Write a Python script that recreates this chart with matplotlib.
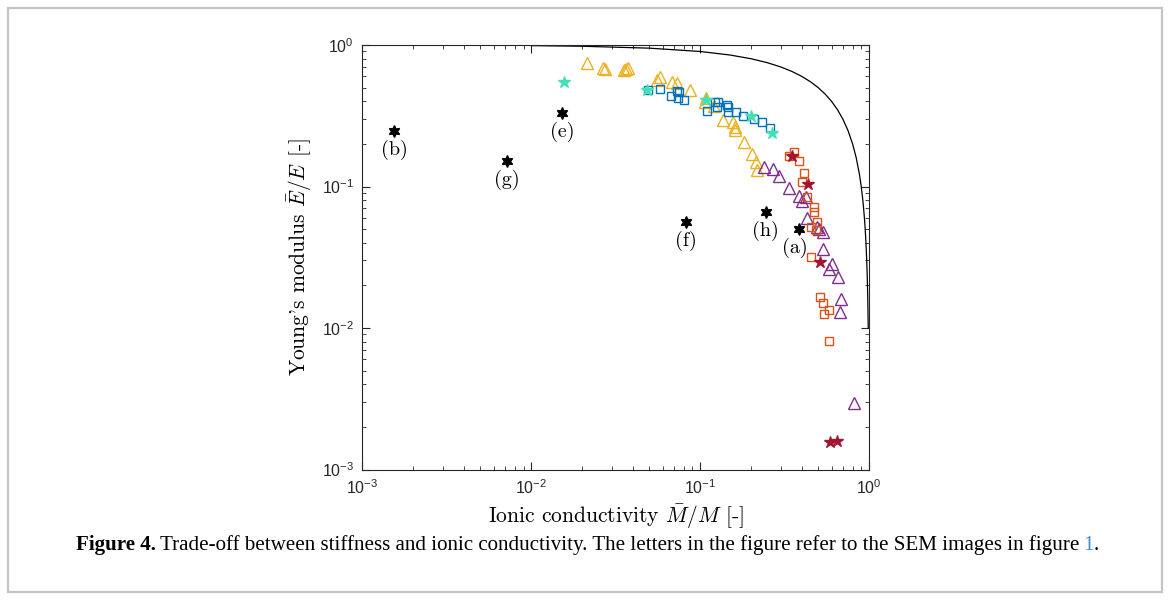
import matplotlib
matplotlib.use("Agg")
import matplotlib.pyplot as plt
from matplotlib.patches import Rectangle
from matplotlib.ticker import LogLocator, NullFormatter

plt.rcParams["font.family"] = ["Liberation Sans", "DejaVu Sans"]
plt.rcParams["mathtext.fontset"] = "custom"
plt.rcParams["mathtext.rm"] = "Liberation Sans"
plt.rcParams["mathtext.it"] = "Liberation Sans:italic"
plt.rcParams["mathtext.bf"] = "Liberation Sans:bold"

# bound curve
bound_x = [0.01, 0.02, 0.05, 0.1, 0.15, 0.2, 0.25, 0.3, 0.35, 0.4, 0.45, 0.5,
           0.55, 0.6, 0.65, 0.7, 0.75, 0.8, 0.84, 0.88, 0.9, 0.92, 0.94,
           0.95, 0.96, 0.97, 0.975, 0.98, 0.985, 0.99]
bound_y = [0.99, 0.98, 0.95, 0.9, 0.85, 0.8, 0.75, 0.7, 0.65, 0.6, 0.55, 0.5,
           0.45, 0.4, 0.35, 0.3, 0.25, 0.2, 0.16, 0.12, 0.1, 0.08, 0.06,
           0.05, 0.04, 0.03, 0.025, 0.02, 0.015, 0.01]

# yellow triangles
tri_y_x = [0.0215, 0.0266, 0.0273, 0.0354, 0.0374, 0.0364, 0.0578, 0.0557,
           0.0679, 0.0733, 0.0871, 0.108, 0.107, 0.121, 0.137, 0.157, 0.161,
           0.161, 0.182, 0.202, 0.214, 0.218]
tri_y_y = [0.748, 0.693, 0.682, 0.661, 0.693, 0.676, 0.597, 0.566,
           0.551, 0.542, 0.481, 0.420, 0.397, 0.371, 0.295, 0.287, 0.265,
           0.251, 0.205, 0.170, 0.150, 0.131]

# purple triangles
tri_p_x = [0.239, 0.269, 0.294, 0.337, 0.385, 0.400, 0.424, 0.431, 0.491,
           0.505, 0.532, 0.537, 0.603, 0.582, 0.659, 0.681, 0.675, 0.817]
tri_p_y = [0.137, 0.133, 0.119, 0.0971, 0.0861, 0.0794, 0.0847, 0.0596,
           0.0515, 0.0498, 0.0479, 0.0362, 0.0282, 0.0260, 0.0230, 0.0161,
           0.0129, 0.00294]

# blue squares
sq_b_x = [0.0493, 0.0578, 0.0673, 0.0726, 0.0753, 0.0736, 0.0803, 0.110,
          0.122, 0.128, 0.126, 0.144, 0.147, 0.146, 0.163, 0.180, 0.209,
          0.232, 0.259]
sq_b_y = [0.481, 0.489, 0.438, 0.475, 0.468, 0.420, 0.409, 0.342,
          0.397, 0.397, 0.363, 0.377, 0.366, 0.338, 0.338, 0.315, 0.299,
          0.287, 0.257]

# orange squares
sq_o_x = [0.336, 0.360, 0.387, 0.413, 0.403, 0.431, 0.471, 0.475, 0.494,
          0.452, 0.486, 0.456, 0.516, 0.531, 0.581, 0.542, 0.581]
sq_o_y = [0.164, 0.175, 0.151, 0.124, 0.108, 0.0847, 0.0713, 0.0664,
          0.0564, 0.0515, 0.0493, 0.0318, 0.0166, 0.0151, 0.0134, 0.0126,
          0.00803]

# turquoise stars
st_t_x = [0.0157, 0.0483, 0.108, 0.1995, 0.267]
st_t_y = [0.551, 0.481, 0.409, 0.316, 0.239]

# dark red stars
st_r_x = [0.352, 0.437, 0.513, 0.589, 0.650]
st_r_y = [0.164, 0.104, 0.0294, 0.00157, 0.00159]

# black hexagrams (SEM samples)
sem_x = [0.00154, 0.00714, 0.0153, 0.0822, 0.245, 0.387]
sem_y = [0.248, 0.151, 0.329, 0.0558, 0.0664, 0.0498]
sem_labels = ["(b)", "(g)", "(e)", "(f)", "(h)", "(a)"]

caption_bold = "Figure 4."
caption_text = ("Trade-off between stiffness and ionic conductivity. The letters "
                "in the figure refer to the SEM images in figure")
caption_ref = "1"

fig = plt.figure(figsize=(11.7, 6.0), dpi=100)
fig.patches.append(Rectangle((8 / 1170, 8 / 600), 1154 / 1170, 584 / 600,
                             transform=fig.transFigure, fill=False,
                             edgecolor="#c4c4c4", linewidth=1.6))

ax = fig.add_axes([0.3098, 0.2175, 0.4329, 0.7075])
ax.set_xscale("log")
ax.set_yscale("log")

ax.plot(bound_x, bound_y, color="black", lw=0.9)

mew = 1.0
ax.plot(tri_y_x, tri_y_y, "^", ms=8.5, mfc="none", mec="#EDB120", mew=mew)
ax.plot(tri_p_x, tri_p_y, "^", ms=8.5, mfc="none", mec="#7E2F8E", mew=mew)
ax.plot(sq_b_x, sq_b_y, "s", ms=6.3, mfc="none", mec="#0072BD", mew=mew)
ax.plot(sq_o_x, sq_o_y, "s", ms=6.3, mfc="none", mec="#D95319", mew=mew)
ax.plot(st_t_x, st_t_y, "*", ms=9, color="#45DFB5", mec="#45DFB5")
ax.plot(st_r_x, st_r_y, "*", ms=9, color="#A2142F", mec="#A2142F")
ax.plot(sem_x, sem_y, marker=(6, 1, 0), ls="none", ms=8.5, color="black")

for lab, x, y in zip(sem_labels, sem_x, sem_y):
    dx = -4 if lab == "(a)" else 0
    ax.annotate(lab, (x, y), xytext=(dx, -19), textcoords="offset pixels",
                ha="center", va="center", fontfamily="cmr10", fontsize=14.5)

ax.set_xlim(1e-3, 1)
ax.set_ylim(1e-3, 1)
for axis in (ax.xaxis, ax.yaxis):
    axis.set_major_locator(LogLocator(base=10, numticks=10))
    axis.set_minor_locator(LogLocator(base=10, subs=range(2, 10), numticks=20))
    axis.set_minor_formatter(NullFormatter())
ax.tick_params(which="both", direction="in", top=True, right=True,
               colors="#262626", labelcolor="#262626", labelsize=11.5)
ax.tick_params(which="major", length=6, width=0.8, pad=6)
ax.tick_params(which="minor", length=3, width=0.6)
for sp in ax.spines.values():
    sp.set_color("#262626")
    sp.set_linewidth(0.8)

ax.set_xlabel(r"Ionic conductivity $\bar{M}/M$ [-]", fontfamily="cmr10",
              math_fontfamily="cm", fontsize=15.5, labelpad=4)
ax.set_ylabel(r"Young's modulus $\bar{E}/E$ [-]", fontfamily="cmr10",
              math_fontfamily="cm", fontsize=15.5, labelpad=6)

# caption, laid out piece by piece on one baseline
cap = dict(fontfamily="Liberation Serif", fontsize=15.1, va="baseline")
y_cap = 1 - 550 / 600
fig.canvas.draw()
renderer = fig.canvas.get_renderer()
x_px = 76
pieces = [(caption_bold, "bold", "black", 4),
          (caption_text, "normal", "black", 4),
          (caption_ref, "normal", "#3a8fd0", 0),
          (".", "normal", "black", 0)]
for txt, weight, col, gap in pieces:
    t = fig.text(x_px / 1170, y_cap, txt, fontweight=weight, color=col, **cap)
    x_px += t.get_window_extent(renderer).width + gap

fig.savefig("out.png", dpi=100)
